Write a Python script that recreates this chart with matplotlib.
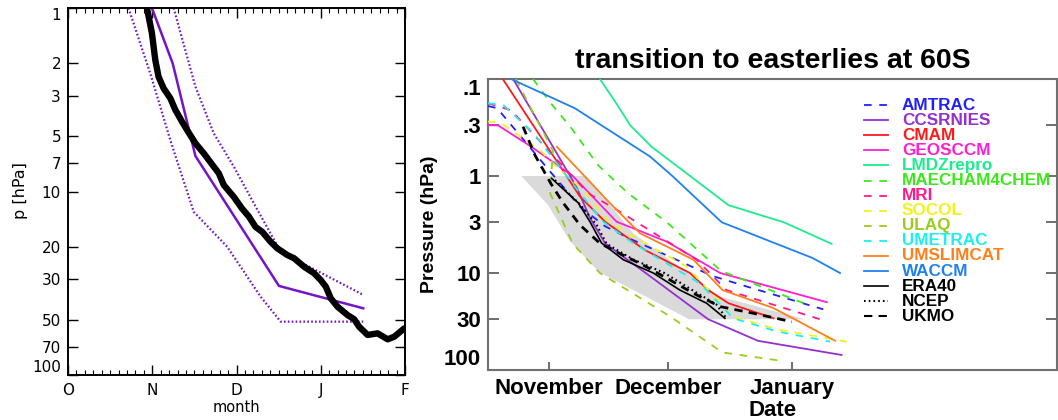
import matplotlib
matplotlib.use("Agg")
import matplotlib.pyplot as plt
from matplotlib.lines import Line2D
from matplotlib.patches import Polygon
from matplotlib.ticker import FixedLocator, NullLocator

plt.rcParams["lines.scale_dashes"] = False

# ---------------- left panel: reversal date vs pressure ----------------
left_months = ["O", "N", "D", "J", "F"]
left_p_ticks = [1, 2, 3, 5, 7, 10, 20, 30, 50, 70, 100]

obs_month = [0.937, 0.996, 1.036, 1.075, 1.135, 1.214, 1.274, 1.353, 1.413, 1.512,
             1.611, 1.730, 1.790, 1.849, 1.968, 2.067, 2.147, 2.226, 2.306, 2.405,
             2.484, 2.603, 2.683, 2.802, 2.921, 3.000, 3.060, 3.119, 3.198, 3.317,
             3.397, 3.456, 3.556, 3.675, 3.794, 3.873, 3.992]
obs_p = [1.00, 1.37, 1.92, 2.37, 2.74, 3.10, 3.59, 4.16, 4.62, 5.46,
         6.19, 7.32, 7.96, 9.22, 10.7, 12.4, 13.7, 15.6, 16.6, 18.8,
         20.4, 22.2, 23.1, 25.7, 27.9, 30.4, 33.0, 38.2, 42.4, 47.1,
         49.7, 54.6, 60.5, 59.3, 63.9, 61.8, 55.7]

mean_month = [0.996, 1.242, 1.512, 2.504, 3.504]
mean_p = [1.0, 2.0, 6.4, 32.7, 43.3]

early_month = [0.718, 0.976, 1.214, 1.492, 1.889, 2.286, 2.524, 3.504]
early_p = [1.0, 2.27, 5.24, 12.9, 20.0, 37.4, 51.2, 51.2]

late_month = [1.254, 1.512, 1.730, 1.968, 2.206, 2.524, 3.504]
late_p = [1.0, 2.68, 4.82, 7.32, 11.6, 21.3, 36.6]

# ---------------- right panel: transition to easterlies at 60S ----------------
# days after 1 November
month_names = ["November", "December", "January"]
month_days = [0, 30, 61]
p_ticks = [0.1, 0.3, 1, 3, 10, 30, 100]
p_tick_labels = [".1", ".3", "1", "3", "10", "30", "100"]

spread_day = [-6.9, 9.5, 21.2, 43.0, 64.3, 35.2, 12.6, 5.3, -0.2]
spread_p = [1.0, 1.0, 3.9, 17.5, 30.0, 30.0, 9.8, 4.7, 2.0]

amtrac_day = [-15.3, -13.0, 0.3, 7.8, 14.1, 21.2, 41.0, 49.7, 68.9]
amtrac_p = [0.19, 0.20, 0.9, 2.07, 3.3, 4.6, 10.7, 13.8, 23.7]

ccsrnies_day = [-9.0, 6.9, 10.3, 14.1, 25.0, 40.0, 52.5, 73.5]
ccsrnies_p = [0.1, 1.29, 2.7, 4.94, 10.5, 30.0, 50.0, 70.0]

cmam_day = [-11.6, 7.8, 14.1, 24.1, 35.4, 40.0, 45.1, 56.4]
cmam_p = [0.1, 1.63, 2.96, 5.8, 10.0, 15.0, 20.5, 29.3]

geosccm_day = [-15.3, -12.8, -4.4, 6.0, 17.0, 29.6, 43.0, 69.8]
geosccm_p = [0.3, 0.3, 0.5, 1.0, 2.96, 4.75, 10.0, 20.0]

lmdz_day = [12.8, 17.0, 20.4, 25.8, 45.1, 59.0, 71.0]
lmdz_p = [0.1, 0.18, 0.3, 0.5, 2.0, 3.0, 5.0]

maecham_day = [-4.0, 0.6, 5.6, 12.3, 19.8, 29.6, 43.2, 64.0]
maecham_p = [0.1, 0.18, 0.32, 0.77, 1.5, 3.0, 9.5, 20.5]

mri_day = [-15.3, -9.5, 9.8, 17.8, 37.1, 44.6, 68.1]
mri_p = [0.178, 0.21, 1.5, 2.33, 7.3, 15.0, 30.0]

socol_day = [-15.3, -12.3, -2.3, 1.9, 9.5, 14.5, 21.2, 34.6, 46.3, 57.2, 74.8]
socol_p = [0.275, 0.28, 0.54, 0.8, 1.5, 2.84, 4.2, 8.6, 28.2, 38.0, 51.0]

ulaq_day = [-8.3, 1.0, 0.3, 6.0, 12.8, 30.4, 43.6, 58.0]
ulaq_p = [0.1, 0.55, 1.5, 5.0, 10.0, 28.0, 66.0, 80.0]

umetrac_day = [-15.3, -11.5, -3.9, 7.8, 13.6, 21.2, 37.9, 46.3, 57.2, 70.6]
umetrac_p = [0.178, 0.185, 0.36, 1.5, 2.96, 4.94, 12.8, 29.3, 40.0, 51.0]

umslimcat_day = [2.0, 15.3, 22.9, 36.3, 43.6, 56.4, 71.9]
umslimcat_p = [0.5, 1.9, 3.9, 7.3, 15.0, 23.0, 50.0]

waccm_day = [-9.5, 6.5, 25.4, 31.0, 43.4, 66.2, 73.1]
waccm_p = [0.1, 0.2, 0.63, 1.0, 3.0, 7.0, 10.0]

era40_day = [0.7, 7.4, 10.3, 13.2, 18.7, 26.2, 32.9, 39.6, 44.2]
era40_p = [1.06, 1.9, 2.96, 4.9, 7.3, 10.0, 15.0, 20.5, 29.3]

ncep_day = [1.5, 8.0, 12.0, 14.5, 21.0, 29.0, 36.0, 42.0, 44.5]
ncep_p = [1.1, 2.0, 3.2, 5.0, 7.2, 10.0, 15.0, 21.0, 29.0]

ukmo_day = [-6.5, -3.5, 0.5, 3.6, 7.8, 12.8, 17.8, 23.7, 29.6, 36.3, 43.0, 51.3, 61.0]
ukmo_p = [0.31, 0.61, 1.2, 1.9, 3.2, 4.94, 6.3, 8.3, 11.3, 16.2, 22.2, 26.0, 31.8]

DASH = (0, (5.5, 5.5))
SOLID = "-"
series = [
    ("AMTRAC", amtrac_day, amtrac_p, "#2020FF", DASH, 1.3),
    ("CCSRNIES", ccsrnies_day, ccsrnies_p, "#9530D0", SOLID, 1.3),
    ("CMAM", cmam_day, cmam_p, "#FF1A1A", SOLID, 1.3),
    ("GEOSCCM", geosccm_day, geosccm_p, "#FF1ED2", SOLID, 1.3),
    ("LMDZrepro", lmdz_day, lmdz_p, "#1EEB8F", SOLID, 1.3),
    ("MAECHAM4CHEM", maecham_day, maecham_p, "#3DE81A", DASH, 1.3),
    ("MRI", mri_day, mri_p, "#FF1A8C", DASH, 1.3),
    ("SOCOL", socol_day, socol_p, "#F2F21A", DASH, 1.3),
    ("ULAQ", ulaq_day, ulaq_p, "#9ACD1E", DASH, 1.3),
    ("UMETRAC", umetrac_day, umetrac_p, "#1AF0F0", DASH, 1.3),
    ("UMSLIMCAT", umslimcat_day, umslimcat_p, "#FF801A", SOLID, 1.3),
    ("WACCM", waccm_day, waccm_p, "#2080F0", SOLID, 1.3),
    ("ERA40", era40_day, era40_p, "black", SOLID, 1.2),
    ("NCEP", ncep_day, ncep_p, "black", (0, (1.2, 2.2)), 1.5),
    ("UKMO", ukmo_day, ukmo_p, "black", (0, (6, 4.5)), 2.0),
]

W, H = 1058, 420
fig = plt.figure(figsize=(W / 100, H / 100), dpi=100)


def box(l, t, r, b):
    return [l / W, 1 - b / H, (r - l) / W, (b - t) / H]


def tuck_end_labels(ax):
    # keep the top and bottom pressure labels inside the frame
    labels = ax.get_yticklabels()
    labels[0].set_verticalalignment("top")
    labels[-1].set_verticalalignment("bottom")


# ---------- left axes ----------
thin = {"family": "DejaVu Sans", "size": 11}
ax1 = fig.add_axes(box(68, 8, 405, 375))
ax1.set_yscale("log")
ax1.set_xlim(0, 4)
ax1.set_ylim(1, 100)
ax1.invert_yaxis()
ax1.plot(early_month, early_p, color="#7414C8", lw=1.6, ls=(0, (1.2, 1.6)))
ax1.plot(late_month, late_p, color="#7414C8", lw=1.6, ls=(0, (1.2, 1.6)))
ax1.plot(mean_month, mean_p, color="#7414C8", lw=1.8, solid_joinstyle="miter")
ax1.plot(obs_month, obs_p, color="black", lw=4.6, solid_joinstyle="round",
         solid_capstyle="round")
ax1.yaxis.set_major_locator(FixedLocator(left_p_ticks))
ax1.yaxis.set_minor_locator(NullLocator())
ax1.set_yticklabels([str(v) for v in left_p_ticks], fontdict=thin)
tuck_end_labels(ax1)
ax1.set_xticks(range(len(left_months)))
ax1.set_xticklabels(left_months, fontdict=thin)
ax1.xaxis.set_minor_locator(FixedLocator([i / 10 for i in range(41)]))
ax1.tick_params(axis="both", which="major", direction="in", length=7, width=1,
                top=True, right=True, pad=5)
ax1.tick_params(axis="x", which="minor", direction="in", length=3.5, width=0.8,
                top=True, bottom=True)
ax1.tick_params(axis="x", which="major", pad=6)
ax1.set_xlabel("month", fontdict=dict(thin, size=10.5), labelpad=1)
for s in ax1.spines.values():
    s.set_linewidth(1.4)
fig.text(21 / W, 1 - 191 / H, "p [hPa]", rotation=90, ha="center", va="center",
         fontdict=dict(thin, size=11.5))

# ---------- right axes ----------
bold = {"family": "Liberation Sans", "weight": "bold"}
ax2 = fig.add_axes(box(488, 79, 1057, 370))
ax2.set_yscale("log")
ax2.set_xlim(-15.3, 127.6)
ax2.set_ylim(0.1, 100)
ax2.invert_yaxis()

ax2.add_patch(Polygon(list(zip(spread_day, spread_p)), closed=True,
                      facecolor="#DADADA", edgecolor="none", zorder=1))

for name, d, p, c, ls, lw in series:
    ax2.plot(d, p, color=c, ls=ls, lw=lw, zorder=3)

ax2.yaxis.set_major_locator(FixedLocator(p_ticks))
ax2.yaxis.set_minor_locator(NullLocator())
ax2.set_yticklabels(p_tick_labels, fontdict=dict(bold, size=16))
tuck_end_labels(ax2)
ax2.set_xticks(month_days)
ax2.set_xticklabels(month_names, fontdict=dict(bold, size=16))
ax2.tick_params(axis="y", direction="in", length=8, width=1.2, color="#555555",
                right=True, pad=5)
ax2.tick_params(axis="x", direction="in", length=6, width=1.2, color="#555555",
                pad=6)
for s in ax2.spines.values():
    s.set_linewidth(1.5)
    s.set_color("#707070")
ax2.set_ylabel("Pressure (hPa)", fontdict=dict(bold, size=14), labelpad=4)
fig.text(773 / W, 1 - 410 / H, "Date", ha="center", va="center",
         fontdict=dict(bold, size=16))
fig.text(773 / W, 1 - 61 / H, "transition to easterlies at 60S", ha="center",
         va="center", fontdict=dict(bold, size=20.5))

# legend, drawn as a column of samples and coloured names
y0, dy = 105, 15.1
for i, (name, d, p, c, ls, lw) in enumerate(series):
    y = 1 - (y0 + i * dy) / H
    fig.add_artist(Line2D([864 / W, 888 / W], [y, y], color=c, ls=ls,
                          lw=min(lw, 1.5), transform=fig.transFigure))
    fig.text(902 / W, y, name, color=c, va="center", ha="left",
             fontdict=dict(bold, size=12.3))

fig.savefig("out.png", dpi=100)
